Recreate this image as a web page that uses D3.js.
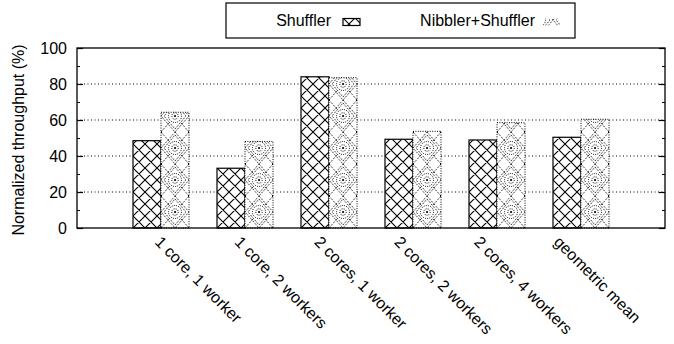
<!DOCTYPE html>
<html>
<head>
<meta charset="utf-8">
<script src="https://cdn.jsdelivr.net/npm/d3@7"></script>
<style>
  html, body { margin: 0; padding: 0; background: #fff; }
  svg { display: block; font-family: "Liberation Sans", Arial, sans-serif; }
</style>
</head>
<body>
<svg id="chart" width="674" height="344"></svg>
<script>
// Workload configurations on the x axis
const categories = [
  "1 core, 1 worker",
  "1 core, 2 workers",
  "2 cores, 1 worker",
  "2 cores, 2 workers",
  "2 cores, 4 workers",
  "geometric mean"
];
// Normalized throughput (%) per configuration
const shuffler = [48.5, 33.2, 84.0, 49.3, 48.9, 50.4];
const nibblerShuffler = [64.3, 48.1, 83.5, 53.7, 58.5, 60.4];
const seriesNames = ["Shuffler", "Nibbler+Shuffler"];
const yTicks = [0, 20, 40, 60, 80, 100];
const yMinorTicks = [10, 30, 50, 70, 90];

const FONT = 16;
const svg = d3.select("#chart");
const plotLeft = 77, plotRight = 665, plotTop = 48, plotBottom = 228;

const x = d3.scaleLinear().domain([-1, categories.length]).range([plotLeft, plotRight]);
const y = d3.scaleLinear().domain([0, 100]).range([plotBottom, plotTop]);
// Rotated labels are laid out on their own, slightly tighter, pitch
const xLabel = d3.scaleLinear().domain([0, categories.length - 1]).range([154, 553]);
const barW = x(1 / 3) - x(0);

// Fill patterns
const defs = svg.append("defs");
const cross = defs.append("pattern")
  .attr("id", "crosshatch")
  .attr("patternUnits", "userSpaceOnUse")
  .attr("x", x(0) - barW).attr("y", plotBottom)
  .attr("width", 12).attr("height", 12);
cross.append("rect").attr("width", 12).attr("height", 12).attr("fill", "#fff");
cross.append("path")
  .attr("d", "M0,0L12,12M12,0L0,12M-1,11L1,13M11,-1L13,1M-1,1L1,-1M11,13L13,11")
  .attr("stroke", "#000").attr("stroke-width", 1.1).attr("fill", "none");

const PW = 28, PH = 32;
const dots = defs.append("pattern")
  .attr("id", "dotted")
  .attr("patternUnits", "userSpaceOnUse")
  .attr("x", x(0)).attr("y", plotBottom)
  .attr("width", PW).attr("height", PH);
dots.append("rect").attr("width", PW).attr("height", PH).attr("fill", "#fff");
const dotStroke = g => g.attr("fill", "none").attr("stroke", "#000")
  .attr("stroke-width", 1).attr("stroke-dasharray", "1,1.2");
dots.append("path")
  .attr("d", `M${PW / 2},0L${PW},${PH / 2}L${PW / 2},${PH}L0,${PH / 2}Z` +
             `M${PW / 2},3L${PW - 3},${PH / 2}L${PW / 2},${PH - 3}L3,${PH / 2}Z` +
             `M0,0L${PW * 0.3},${PH * 0.3}M${PW},0L${PW * 0.7},${PH * 0.3}` +
             `M0,${PH}L${PW * 0.3},${PH * 0.7}M${PW},${PH}L${PW * 0.7},${PH * 0.7}`)
  .call(dotStroke);
dots.append("circle").attr("cx", PW / 2).attr("cy", PH / 2).attr("r", 6.5).call(dotStroke);
dots.append("circle").attr("cx", PW / 2).attr("cy", PH / 2).attr("r", 3.2).call(dotStroke);
[[0, 0], [PW, 0], [0, PH], [PW, PH], [PW / 2, PH / 2]].forEach(([cx, cy]) =>
  dots.append("circle").attr("cx", cx).attr("cy", cy).attr("r", 1.1).attr("fill", "#000"));

// Horizontal dotted grid
svg.append("g").selectAll("line")
  .data(yTicks.filter(v => v > 0 && v < 100))
  .join("line")
  .attr("x1", plotLeft).attr("x2", plotRight)
  .attr("y1", d => y(d)).attr("y2", d => y(d))
  .attr("stroke", "#000").attr("stroke-width", 1)
  .attr("stroke-dasharray", "1,2.5");

// Bars
const bars = svg.append("g");
bars.selectAll("rect.s")
  .data(shuffler)
  .join("rect")
  .attr("class", "s")
  .attr("x", (d, i) => x(i) - barW)
  .attr("y", d => y(d))
  .attr("width", barW)
  .attr("height", d => y(0) - y(d))
  .attr("fill", "url(#crosshatch)")
  .attr("stroke", "#000").attr("stroke-width", 1.2);
bars.selectAll("rect.n")
  .data(nibblerShuffler)
  .join("rect")
  .attr("class", "n")
  .attr("x", (d, i) => x(i))
  .attr("y", d => y(d))
  .attr("width", barW)
  .attr("height", d => y(0) - y(d))
  .attr("fill", "url(#dotted)")
  .attr("stroke", "#000").attr("stroke-width", 1)
  .attr("stroke-dasharray", "1,1.4");

// Frame
svg.append("rect")
  .attr("x", plotLeft).attr("y", plotTop)
  .attr("width", plotRight - plotLeft).attr("height", plotBottom - plotTop)
  .attr("fill", "none").attr("stroke", "#000").attr("stroke-width", 1.3);

// Y axis (left, with inward ticks) and mirrored ticks on the right
const yAxisL = d3.axisLeft(y).tickValues(yTicks).tickSize(-6).tickPadding(10);
const gL = svg.append("g").attr("transform", `translate(${plotLeft},0)`).call(yAxisL);
gL.select(".domain").remove();
gL.selectAll("text").attr("font-size", FONT).attr("fill", "#000")
  .attr("font-family", "Liberation Sans, Arial, sans-serif");
gL.selectAll("line").attr("stroke-width", 1.2);
const minorL = d3.axisLeft(y).tickValues(yMinorTicks).tickSize(-3).tickFormat("");
svg.append("g").attr("transform", `translate(${plotLeft},0)`).call(minorL)
  .call(g => g.select(".domain").remove());

const yAxisR = d3.axisRight(y).tickValues(yTicks).tickSize(-6).tickFormat("");
svg.append("g").attr("transform", `translate(${plotRight},0)`).call(yAxisR)
  .call(g => g.select(".domain").remove())
  .call(g => g.selectAll("line").attr("stroke-width", 1.2));
const minorR = d3.axisRight(y).tickValues(yMinorTicks).tickSize(-3).tickFormat("");
svg.append("g").attr("transform", `translate(${plotRight},0)`).call(minorR)
  .call(g => g.select(".domain").remove());

// Y axis title
svg.append("text")
  .attr("transform", `translate(23.5,${(plotTop + plotBottom) / 2 + 2}) rotate(-90)`)
  .attr("text-anchor", "middle")
  .attr("font-size", FONT)
  .text("Normalized throughput (%)");

// Rotated category labels
svg.append("g").selectAll("text")
  .data(categories)
  .join("text")
  .attr("transform", (d, i) => `translate(${xLabel(i)},243) rotate(45)`)
  .attr("font-size", FONT)
  .text(d => d);

// Legend
const legend = svg.append("g");
legend.append("rect")
  .attr("x", 226).attr("y", 3).attr("width", 349).attr("height", 35)
  .attr("fill", "#fff").attr("stroke", "#000").attr("stroke-width", 1.2);
const legendItems = [
  { name: seriesNames[0], tx: 331, sx: 343, fill: "url(#crosshatch)", solid: true },
  { name: seriesNames[1], tx: 535, sx: 543, fill: "url(#dotted)", solid: false }
];
legendItems.forEach(it => {
  legend.append("text")
    .attr("x", it.tx).attr("y", 26)
    .attr("text-anchor", "end")
    .attr("font-size", FONT)
    .text(it.name);
  legend.append("rect")
    .attr("x", it.sx).attr("y", 18.5).attr("width", 17).attr("height", 7)
    .attr("fill", it.fill)
    .attr("stroke", it.solid ? "#000" : "none")
    .attr("stroke-width", 1.2);
});
</script>
</body>
</html>
